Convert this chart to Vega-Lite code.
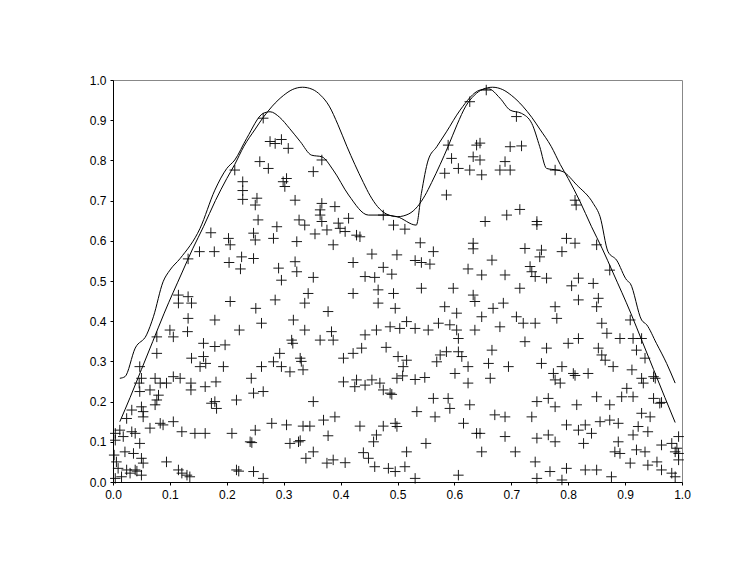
{
  "$schema": "https://vega.github.io/schema/vega-lite/v6.json",
  "autosize": "none",
  "width": 569,
  "height": 402,
  "padding": {"left": 113, "top": 80, "right": 65, "bottom": 96},
  "background": "white",
  "config": {
    "view": {"stroke": "#888888", "strokeWidth": 1},
    "axis": {
      "grid": false,
      "domainColor": "#000000",
      "domainWidth": 1,
      "tickColor": "#000000",
      "tickSize": 3,
      "tickWidth": 1,
      "labelFont": "Liberation Sans",
      "labelFontSize": 12,
      "labelColor": "#000000",
      "titleFontSize": 0,
      "labelFlush": false,
      "labelOverlap": false
    }
  },
  "datasets": {
    "pts": [
      {"x":0.264,"y":0.905},{"x":0.276,"y":0.847},{"x":0.285,"y":0.842},{"x":0.296,"y":0.852},{"x":0.308,"y":0.830},{"x":0.258,"y":0.797},{"x":0.273,"y":0.780},{"x":0.214,"y":0.776},{"x":0.228,"y":0.747},{"x":0.228,"y":0.725},{"x":0.228,"y":0.703},{"x":0.253,"y":0.706},{"x":0.250,"y":0.689},{"x":0.299,"y":0.747},{"x":0.305,"y":0.755},{"x":0.302,"y":0.735},{"x":0.320,"y":0.701},{"x":0.255,"y":0.652},{"x":0.288,"y":0.635},{"x":0.327,"y":0.652},{"x":0.247,"y":0.619},{"x":0.250,"y":0.602},{"x":0.282,"y":0.606},{"x":0.323,"y":0.598},{"x":0.203,"y":0.606},{"x":0.206,"y":0.590},{"x":0.172,"y":0.620},{"x":0.152,"y":0.573},{"x":0.178,"y":0.573},{"x":0.132,"y":0.555},{"x":0.226,"y":0.560},{"x":0.247,"y":0.556},{"x":0.204,"y":0.546},{"x":0.224,"y":0.530},{"x":0.291,"y":0.532},{"x":0.320,"y":0.548},{"x":0.323,"y":0.523},
      {"x":0.367,"y":0.801},{"x":0.352,"y":0.772},{"x":0.367,"y":0.693},{"x":0.364,"y":0.677},{"x":0.390,"y":0.685},{"x":0.364,"y":0.664},{"x":0.414,"y":0.656},{"x":0.337,"y":0.639},{"x":0.367,"y":0.648},{"x":0.376,"y":0.627},{"x":0.396,"y":0.644},{"x":0.399,"y":0.631},{"x":0.408,"y":0.623},{"x":0.355,"y":0.617},{"x":0.428,"y":0.614},{"x":0.434,"y":0.610},{"x":0.475,"y":0.664},{"x":0.493,"y":0.639},{"x":0.513,"y":0.629},{"x":0.387,"y":0.590},{"x":0.540,"y":0.595},{"x":0.563,"y":0.573},{"x":0.455,"y":0.567},{"x":0.499,"y":0.565},{"x":0.422,"y":0.546},{"x":0.531,"y":0.551},{"x":0.542,"y":0.546},{"x":0.557,"y":0.542},{"x":0.352,"y":0.509},{"x":0.475,"y":0.534},{"x":0.490,"y":0.517},{"x":0.443,"y":0.511},{"x":0.460,"y":0.509},{"x":0.589,"y":0.838},{"x":0.595,"y":0.805},{"x":0.607,"y":0.780},{"x":0.627,"y":0.776},{"x":0.583,"y":0.768},{"x":0.586,"y":0.714},{"x":0.633,"y":0.809},{"x":0.639,"y":0.838},{"x":0.627,"y":0.946},{"x":0.633,"y":0.594},{"x":0.633,"y":0.580},{"x":0.624,"y":0.530},
      {"x":0.656,"y":0.975},{"x":0.709,"y":0.909},{"x":0.645,"y":0.843},{"x":0.698,"y":0.834},{"x":0.718,"y":0.836},{"x":0.645,"y":0.801},{"x":0.689,"y":0.797},{"x":0.680,"y":0.776},{"x":0.698,"y":0.776},{"x":0.648,"y":0.764},{"x":0.777,"y":0.776},{"x":0.812,"y":0.701},{"x":0.814,"y":0.689},{"x":0.654,"y":0.648},{"x":0.692,"y":0.664},{"x":0.715,"y":0.678},{"x":0.745,"y":0.648},{"x":0.745,"y":0.640},{"x":0.724,"y":0.581},{"x":0.753,"y":0.577},{"x":0.750,"y":0.560},{"x":0.797,"y":0.606},{"x":0.812,"y":0.594},{"x":0.789,"y":0.573},{"x":0.850,"y":0.590},{"x":0.666,"y":0.552},{"x":0.648,"y":0.515},{"x":0.689,"y":0.515},{"x":0.733,"y":0.536},{"x":0.736,"y":0.523},{"x":0.742,"y":0.511},{"x":0.762,"y":0.507},{"x":0.818,"y":0.507},{"x":0.873,"y":0.527},
      {"x":0.115,"y":0.465},{"x":0.132,"y":0.461},{"x":0.115,"y":0.445},{"x":0.138,"y":0.445},{"x":0.132,"y":0.407},{"x":0.100,"y":0.378},{"x":0.106,"y":0.361},{"x":0.131,"y":0.374},{"x":0.077,"y":0.361},{"x":0.077,"y":0.320},{"x":0.047,"y":0.287},{"x":0.050,"y":0.258},{"x":0.074,"y":0.258},{"x":0.083,"y":0.246},{"x":0.094,"y":0.246},{"x":0.106,"y":0.262},{"x":0.118,"y":0.258},{"x":0.137,"y":0.246},{"x":0.137,"y":0.229},{"x":0.046,"y":0.246},{"x":0.047,"y":0.225},{"x":0.065,"y":0.229},{"x":0.080,"y":0.216},{"x":0.077,"y":0.204},{"x":0.074,"y":0.192},{"x":0.033,"y":0.179},{"x":0.050,"y":0.187},{"x":0.053,"y":0.175},{"x":0.053,"y":0.162},{"x":0.024,"y":0.158},{"x":0.083,"y":0.146},{"x":0.088,"y":0.142},{"x":0.106,"y":0.150},{"x":0.065,"y":0.134},{"x":0.012,"y":0.129},{"x":0.033,"y":0.125},{"x":0.039,"y":0.121},{"x":0.018,"y":0.113},{"x":0.004,"y":0.121},{"x":0.004,"y":0.104},{"x":0.047,"y":0.096},{"x":0.121,"y":0.125},{"x":0.144,"y":0.121},{"x":0.162,"y":0.121},{"x":0.179,"y":0.200},{"x":0.182,"y":0.183},{"x":0.173,"y":0.196},{"x":0.181,"y":0.249},{"x":0.162,"y":0.237},{"x":0.153,"y":0.287},{"x":0.163,"y":0.295},{"x":0.159,"y":0.312},{"x":0.138,"y":0.308},{"x":0.159,"y":0.345},{"x":0.179,"y":0.337},{"x":0.197,"y":0.341},{"x":0.194,"y":0.287},{"x":0.179,"y":0.403},{"x":0.206,"y":0.449},{"x":0.222,"y":0.378},{"x":0.217,"y":0.204},{"x":0.209,"y":0.121},{"x":0.241,"y":0.100},{"x":0.244,"y":0.098},{"x":0.250,"y":0.129},{"x":0.243,"y":0.258},{"x":0.247,"y":0.221},{"x":0.264,"y":0.225},{"x":0.261,"y":0.287},{"x":0.282,"y":0.299},{"x":0.296,"y":0.287},{"x":0.311,"y":0.274},{"x":0.293,"y":0.320},{"x":0.314,"y":0.353},{"x":0.316,"y":0.345},{"x":0.251,"y":0.432},{"x":0.261,"y":0.395},{"x":0.285,"y":0.453},{"x":0.296,"y":0.502},{"x":0.317,"y":0.403},{"x":0.279,"y":0.146},{"x":0.305,"y":0.142},{"x":0.311,"y":0.096},{"x":0.326,"y":0.100},{"x":0.094,"y":0.050},{"x":0.217,"y":0.030},{"x":0.221,"y":0.027},{"x":0.247,"y":0.026},{"x":0.264,"y":0.009},{"x":0.115,"y":0.030},{"x":0.121,"y":0.022},{"x":0.130,"y":0.017},{"x":0.135,"y":0.013},{"x":0.002,"y":0.067},{"x":0.006,"y":0.050},{"x":0.009,"y":0.034},{"x":0.021,"y":0.075},{"x":0.036,"y":0.071},{"x":0.024,"y":0.030},{"x":0.015,"y":0.013},{"x":0.030,"y":0.022},{"x":0.039,"y":0.030},{"x":0.042,"y":0.027},{"x":0.050,"y":0.059},{"x":0.053,"y":0.047},{"x":0.050,"y":0.017},{"x":0.004,"y":0.009},
      {"x":0.343,"y":0.469},{"x":0.337,"y":0.445},{"x":0.422,"y":0.469},{"x":0.466,"y":0.478},{"x":0.466,"y":0.445},{"x":0.493,"y":0.469},{"x":0.496,"y":0.432},{"x":0.542,"y":0.482},{"x":0.598,"y":0.482},{"x":0.633,"y":0.465},{"x":0.636,"y":0.449},{"x":0.583,"y":0.436},{"x":0.604,"y":0.420},{"x":0.378,"y":0.424},{"x":0.337,"y":0.378},{"x":0.384,"y":0.374},{"x":0.387,"y":0.353},{"x":0.364,"y":0.353},{"x":0.443,"y":0.366},{"x":0.463,"y":0.378},{"x":0.487,"y":0.386},{"x":0.504,"y":0.382},{"x":0.516,"y":0.399},{"x":0.531,"y":0.382},{"x":0.554,"y":0.378},{"x":0.572,"y":0.395},{"x":0.592,"y":0.391},{"x":0.604,"y":0.378},{"x":0.607,"y":0.357},{"x":0.636,"y":0.378},{"x":0.437,"y":0.333},{"x":0.422,"y":0.320},{"x":0.405,"y":0.308},{"x":0.480,"y":0.335},{"x":0.501,"y":0.312},{"x":0.516,"y":0.303},{"x":0.510,"y":0.287},{"x":0.575,"y":0.316},{"x":0.569,"y":0.299},{"x":0.586,"y":0.324},{"x":0.607,"y":0.324},{"x":0.613,"y":0.312},{"x":0.624,"y":0.287},{"x":0.601,"y":0.270},{"x":0.329,"y":0.308},{"x":0.331,"y":0.300},{"x":0.334,"y":0.279},{"x":0.405,"y":0.249},{"x":0.428,"y":0.254},{"x":0.425,"y":0.237},{"x":0.443,"y":0.241},{"x":0.455,"y":0.254},{"x":0.469,"y":0.246},{"x":0.475,"y":0.229},{"x":0.487,"y":0.221},{"x":0.490,"y":0.218},{"x":0.499,"y":0.258},{"x":0.509,"y":0.264},{"x":0.531,"y":0.255},{"x":0.548,"y":0.260},{"x":0.624,"y":0.246},{"x":0.352,"y":0.200},{"x":0.563,"y":0.208},{"x":0.589,"y":0.208},{"x":0.592,"y":0.183},{"x":0.534,"y":0.175},{"x":0.566,"y":0.162},{"x":0.627,"y":0.192},{"x":0.616,"y":0.146},{"x":0.639,"y":0.121},{"x":0.370,"y":0.154},{"x":0.390,"y":0.162},{"x":0.334,"y":0.139},{"x":0.346,"y":0.139},{"x":0.378,"y":0.115},{"x":0.329,"y":0.103},{"x":0.352,"y":0.075},{"x":0.339,"y":0.059},{"x":0.376,"y":0.047},{"x":0.387,"y":0.055},{"x":0.408,"y":0.048},{"x":0.434,"y":0.139},{"x":0.475,"y":0.139},{"x":0.496,"y":0.146},{"x":0.499,"y":0.138},{"x":0.463,"y":0.117},{"x":0.458,"y":0.100},{"x":0.550,"y":0.096},{"x":0.516,"y":0.075},{"x":0.440,"y":0.073},{"x":0.449,"y":0.059},{"x":0.460,"y":0.038},{"x":0.484,"y":0.034},{"x":0.496,"y":0.026},{"x":0.513,"y":0.038},{"x":0.531,"y":0.009},{"x":0.607,"y":0.017},
      {"x":0.715,"y":0.482},{"x":0.806,"y":0.488},{"x":0.844,"y":0.494},{"x":0.668,"y":0.432},{"x":0.686,"y":0.445},{"x":0.648,"y":0.411},{"x":0.680,"y":0.386},{"x":0.709,"y":0.411},{"x":0.721,"y":0.395},{"x":0.742,"y":0.395},{"x":0.777,"y":0.436},{"x":0.780,"y":0.407},{"x":0.818,"y":0.453},{"x":0.853,"y":0.457},{"x":0.850,"y":0.436},{"x":0.724,"y":0.349},{"x":0.762,"y":0.333},{"x":0.800,"y":0.345},{"x":0.818,"y":0.357},{"x":0.859,"y":0.395},{"x":0.868,"y":0.370},{"x":0.891,"y":0.357},{"x":0.909,"y":0.403},{"x":0.914,"y":0.357},{"x":0.929,"y":0.357},{"x":0.853,"y":0.333},{"x":0.859,"y":0.316},{"x":0.865,"y":0.303},{"x":0.879,"y":0.287},{"x":0.920,"y":0.328},{"x":0.935,"y":0.308},{"x":0.666,"y":0.328},{"x":0.660,"y":0.295},{"x":0.695,"y":0.287},{"x":0.753,"y":0.295},{"x":0.789,"y":0.287},{"x":0.774,"y":0.270},{"x":0.777,"y":0.254},{"x":0.786,"y":0.246},{"x":0.809,"y":0.270},{"x":0.812,"y":0.265},{"x":0.835,"y":0.270},{"x":0.912,"y":0.279},{"x":0.929,"y":0.258},{"x":0.932,"y":0.246},{"x":0.950,"y":0.262},{"x":0.953,"y":0.258},{"x":0.903,"y":0.233},{"x":0.894,"y":0.212},{"x":0.914,"y":0.212},{"x":0.850,"y":0.212},{"x":0.873,"y":0.192},{"x":0.815,"y":0.192},{"x":0.777,"y":0.187},{"x":0.765,"y":0.208},{"x":0.745,"y":0.200},{"x":0.663,"y":0.258},{"x":0.671,"y":0.167},{"x":0.689,"y":0.162},{"x":0.736,"y":0.162},{"x":0.950,"y":0.208},{"x":0.961,"y":0.196},{"x":0.964,"y":0.198},{"x":0.929,"y":0.171},{"x":0.944,"y":0.162},{"x":0.856,"y":0.150},{"x":0.873,"y":0.154},{"x":0.888,"y":0.146},{"x":0.797,"y":0.142},{"x":0.818,"y":0.129},{"x":0.830,"y":0.142},{"x":0.841,"y":0.121},{"x":0.923,"y":0.138},{"x":0.940,"y":0.125},{"x":0.914,"y":0.117},{"x":0.994,"y":0.113},{"x":0.645,"y":0.121},{"x":0.648,"y":0.075},{"x":0.689,"y":0.113},{"x":0.707,"y":0.075},{"x":0.745,"y":0.109},{"x":0.765,"y":0.117},{"x":0.777,"y":0.100},{"x":0.827,"y":0.096},{"x":0.888,"y":0.100},{"x":0.882,"y":0.075},{"x":0.891,"y":0.071},{"x":0.920,"y":0.080},{"x":0.935,"y":0.075},{"x":0.964,"y":0.092},{"x":0.982,"y":0.096},{"x":0.991,"y":0.084},{"x":0.994,"y":0.071},{"x":0.988,"y":0.075},{"x":0.994,"y":0.055},{"x":0.742,"y":0.050},{"x":0.768,"y":0.026},{"x":0.797,"y":0.034},{"x":0.789,"y":0.005},{"x":0.745,"y":0.009},{"x":0.830,"y":0.030},{"x":0.850,"y":0.030},{"x":0.876,"y":0.013},{"x":0.909,"y":0.047},{"x":0.940,"y":0.042},{"x":0.956,"y":0.050},{"x":0.964,"y":0.030},{"x":0.982,"y":0.022},{"x":0.988,"y":0.013}
    ],
    "curves": [
      {"c":"true","x":0.012,"y":0.150},{"c":"true","x":0.03,"y":0.210},{"c":"true","x":0.05,"y":0.280},{"c":"true","x":0.07,"y":0.350},{"c":"true","x":0.09,"y":0.420},{"c":"true","x":0.121,"y":0.520},{"c":"true","x":0.14,"y":0.580},{"c":"true","x":0.159,"y":0.635},{"c":"true","x":0.18,"y":0.700},{"c":"true","x":0.20,"y":0.755},{"c":"true","x":0.214,"y":0.790},{"c":"true","x":0.23,"y":0.835},{"c":"true","x":0.25,"y":0.878},{"c":"true","x":0.264,"y":0.907},{"c":"true","x":0.28,"y":0.935},{"c":"true","x":0.30,"y":0.962},{"c":"true","x":0.315,"y":0.976},{"c":"true","x":0.333,"y":0.982},{"c":"true","x":0.35,"y":0.977},{"c":"true","x":0.365,"y":0.962},{"c":"true","x":0.38,"y":0.935},{"c":"true","x":0.395,"y":0.890},{"c":"true","x":0.411,"y":0.835},{"c":"true","x":0.425,"y":0.790},{"c":"true","x":0.44,"y":0.745},{"c":"true","x":0.452,"y":0.712},{"c":"true","x":0.465,"y":0.685},{"c":"true","x":0.48,"y":0.667},{"c":"true","x":0.50,"y":0.660},{"c":"true","x":0.52,"y":0.667},{"c":"true","x":0.535,"y":0.685},{"c":"true","x":0.548,"y":0.712},{"c":"true","x":0.56,"y":0.745},{"c":"true","x":0.575,"y":0.790},{"c":"true","x":0.589,"y":0.835},{"c":"true","x":0.605,"y":0.890},{"c":"true","x":0.62,"y":0.935},{"c":"true","x":0.635,"y":0.962},{"c":"true","x":0.65,"y":0.977},{"c":"true","x":0.667,"y":0.982},{"c":"true","x":0.685,"y":0.976},{"c":"true","x":0.70,"y":0.962},{"c":"true","x":0.72,"y":0.935},{"c":"true","x":0.736,"y":0.907},{"c":"true","x":0.75,"y":0.878},{"c":"true","x":0.77,"y":0.835},{"c":"true","x":0.786,"y":0.790},{"c":"true","x":0.80,"y":0.755},{"c":"true","x":0.82,"y":0.700},{"c":"true","x":0.841,"y":0.635},{"c":"true","x":0.86,"y":0.580},{"c":"true","x":0.879,"y":0.520},{"c":"true","x":0.91,"y":0.420},{"c":"true","x":0.93,"y":0.350},{"c":"true","x":0.95,"y":0.280},{"c":"true","x":0.97,"y":0.210},{"c":"true","x":0.988,"y":0.148},
      {"c":"est","x":0.012,"y":0.258},{"c":"est","x":0.021,"y":0.262},{"c":"est","x":0.039,"y":0.333},{"c":"est","x":0.059,"y":0.366},{"c":"est","x":0.071,"y":0.411},{"c":"est","x":0.088,"y":0.498},{"c":"est","x":0.100,"y":0.527},{"c":"est","x":0.118,"y":0.556},{"c":"est","x":0.153,"y":0.631},{"c":"est","x":0.179,"y":0.726},{"c":"est","x":0.200,"y":0.780},{"c":"est","x":0.214,"y":0.801},{"c":"est","x":0.235,"y":0.855},{"c":"est","x":0.264,"y":0.917},{"c":"est","x":0.276,"y":0.921},{"c":"est","x":0.293,"y":0.907},{"c":"est","x":0.310,"y":0.880},{"c":"est","x":0.329,"y":0.847},{"c":"est","x":0.349,"y":0.813},{"c":"est","x":0.367,"y":0.809},{"c":"est","x":0.387,"y":0.776},{"c":"est","x":0.414,"y":0.714},{"c":"est","x":0.449,"y":0.664},{"c":"est","x":0.475,"y":0.664},{"c":"est","x":0.499,"y":0.660},{"c":"est","x":0.533,"y":0.639},{"c":"est","x":0.542,"y":0.718},{"c":"est","x":0.554,"y":0.801},{"c":"est","x":0.569,"y":0.834},{"c":"est","x":0.586,"y":0.871},{"c":"est","x":0.610,"y":0.925},{"c":"est","x":0.645,"y":0.975},{"c":"est","x":0.660,"y":0.978},{"c":"est","x":0.680,"y":0.955},{"c":"est","x":0.698,"y":0.925},{"c":"est","x":0.718,"y":0.917},{"c":"est","x":0.736,"y":0.892},{"c":"est","x":0.750,"y":0.834},{"c":"est","x":0.762,"y":0.780},{"c":"est","x":0.780,"y":0.776},{"c":"est","x":0.791,"y":0.772},{"c":"est","x":0.815,"y":0.739},{"c":"est","x":0.844,"y":0.693},{"c":"est","x":0.856,"y":0.660},{"c":"est","x":0.870,"y":0.573},{"c":"est","x":0.885,"y":0.552},{"c":"est","x":0.903,"y":0.502},{"c":"est","x":0.909,"y":0.494},{"c":"est","x":0.929,"y":0.403},{"c":"est","x":0.938,"y":0.391},{"c":"est","x":0.955,"y":0.345},{"c":"est","x":0.973,"y":0.295},{"c":"est","x":0.988,"y":0.246}
    ]
  },
  "layer": [
    {
      "data": {"name": "pts"},
      "mark": {"type": "point", "shape": "M-1,0H1M0,-1V1", "size": 110, "filled": false, "stroke": "#000000", "strokeWidth": 1, "opacity": 0.9},
      "encoding": {
        "x": {"field": "x", "type": "quantitative", "scale": {"domain": [0, 1], "nice": false, "zero": false},
          "axis": {"title": null, "values": [0,0.05,0.1,0.15,0.2,0.25,0.3,0.35,0.4,0.45,0.5,0.55,0.6,0.65,0.7,0.75,0.8,0.85,0.9,0.95,1], "labelExpr": "round(datum.value*100) % 10 == 0 ? format(datum.value, '.1f') : ''", "labelPadding": 4}},
        "y": {"field": "y", "type": "quantitative", "scale": {"domain": [0, 1], "nice": false, "zero": false},
          "axis": {"title": null, "values": [0,0.05,0.1,0.15,0.2,0.25,0.3,0.35,0.4,0.45,0.5,0.55,0.6,0.65,0.7,0.75,0.8,0.85,0.9,0.95,1], "labelExpr": "round(datum.value*100) % 10 == 0 ? format(datum.value, '.1f') : ''", "labelPadding": 4}}
      }
    },
    {
      "data": {"name": "curves"},
      "mark": {"type": "line", "stroke": "#000000", "strokeWidth": 1, "interpolate": "monotone"},
      "encoding": {
        "x": {"field": "x", "type": "quantitative"},
        "y": {"field": "y", "type": "quantitative"},
        "detail": {"field": "c", "type": "nominal"},
        "order": {"field": "x", "type": "quantitative"}
      }
    }
  ]
}
